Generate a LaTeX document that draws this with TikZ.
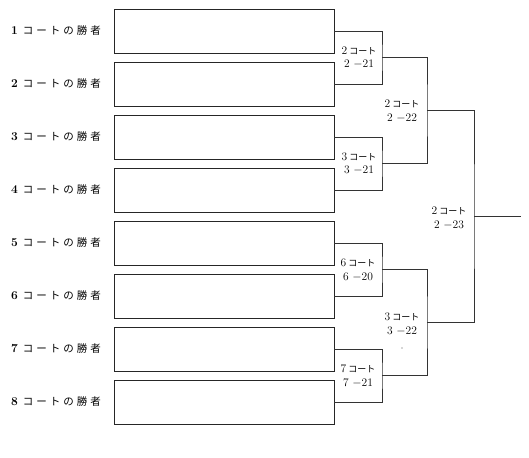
\documentclass[tikz,border=0pt]{standalone}
\usepackage{fontspec}
\newfontfamily\jp{Noto Sans CJK JP}
\newcommand{\winner}[1]{{\fontsize{12}{12}\selectfont\bfseries #1}\hspace{5pt}{\jp\fontsize{10.5}{12}\selectfont コ\hspace{3pt}ー\hspace{3pt}ト\hspace{3pt}の\hspace{3pt}勝\hspace{3pt}者}}
\newcommand{\crt}[2]{#1\,{\jp\fontsize{9}{13}\selectfont コート}\\#1 $-$#2}
\begin{document}
\begin{tikzpicture}[x=1pt,y=-1pt,
  entry/.style={draw=black!85,line width=0.7pt,minimum width=220pt,minimum height=44pt,inner sep=0pt},
  lab/.style={inner sep=0pt},
  mlab/.style={font=\fontsize{11.5}{13.5}\selectfont,align=center,inner sep=0pt},
  wire/.style={draw=black!80,line width=0.6pt}]
\useasboundingbox (0,0) rectangle (529,457);
\foreach \i/\y in {1/31,2/84,3/137,4/190,5/243,6/296,7/349,8/402}{
  \node[entry] (b\i) at (224,\y) {};
  \node[lab] (l\i) at (56,\y) {\winner{\i}};
}
\coordinate (j1) at (382,57.5);
\coordinate (j2) at (382,163.5);
\coordinate (j3) at (382,269.5);
\coordinate (j4) at (382,375.5);
\coordinate (k1) at (427,110.5);
\coordinate (k2) at (427,322.5);
\coordinate (f) at (474,216.5);
\coordinate (e) at (521,216.5);
\draw[wire] (b1.east) -| (j1) |- (b2.east);
\draw[wire] (b3.east) -| (j2) |- (b4.east);
\draw[wire] (b5.east) -| (j3) |- (b6.east);
\draw[wire] (b7.east) -| (j4) |- (b8.east);
\draw[wire] (j1) -| (k1) |- (j2);
\draw[wire] (j3) -| (k2) |- (j4);
\draw[wire] (k1) -| (f) |- (k2);
\draw[wire] (f) -- (e);
\node[mlab] (c1) at (359,57.5) {\crt{2}{21}};
\node[mlab] (c2) at (359,163.5) {\crt{3}{21}};
\node[mlab] (c3) at (358,270) {\crt{6}{20}};
\node[mlab] (c4) at (358,376) {\crt{7}{21}};
\node[mlab] (c5) at (402,111) {\crt{2}{22}};
\node[mlab] (c6) at (402,324) {\crt{3}{22}};
\node[mlab] (c7) at (449,218) {\crt{2}{23}};
\fill[black!70] (402,348) circle (0.6pt);
\end{tikzpicture}
\end{document}
